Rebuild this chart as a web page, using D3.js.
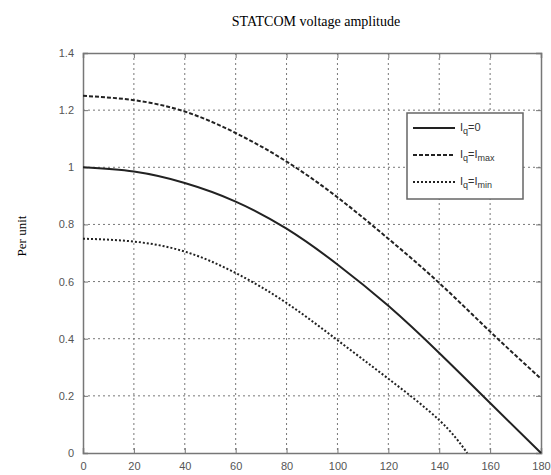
<!DOCTYPE html>
<html>
<head>
<meta charset="utf-8">
<script src="https://cdn.jsdelivr.net/npm/d3@7"></script>
<style>
  body { margin: 0; background: #fff; }
  svg { display: block; }
</style>
</head>
<body>
<div id="chart"></div>
<script>
// tick values
var xTicks = [0, 20, 40, 60, 80, 100, 120, 140, 160, 180];
var yTicks = [0, 0.2, 0.4, 0.6, 0.8, 1, 1.2, 1.4];

// curves
var angle = [0, 20, 40, 60, 80, 100, 120, 140, 160, 180];
var vZero = [1.0, 0.985, 0.945, 0.88, 0.785, 0.66, 0.515, 0.35, 0.175, 0];
var vMax = [1.25, 1.235, 1.195, 1.12, 1.02, 0.895, 0.75, 0.595, 0.425, 0.26];
var angleMin = [0, 20, 40, 60, 80, 100, 120, 140, 151];
var vMin = [0.75, 0.74, 0.705, 0.63, 0.525, 0.395, 0.26, 0.115, 0];

var W = 551, H = 475;
var margin = { top: 53, right: 10, bottom: 22, left: 83 },
    width = 541 - margin.left,
    height = 453 - margin.top;

var svg = d3.select("#chart")
    .append("svg")
    .attr("width", W)
    .attr("height", H);

var g = svg.append("g")
    .attr("transform", "translate(" + margin.left + "," + margin.top + ")");

var x = d3.scaleLinear().domain([0, 180]).range([0, width]);
var y = d3.scaleLinear().domain([0, 1.4]).range([height, 0]);

// grid
g.selectAll(".vgrid").data(xTicks.slice(1, -1)).enter()
    .append("line")
    .attr("x1", d => x(d)).attr("x2", d => x(d))
    .attr("y1", 0).attr("y2", height)
    .attr("stroke", "#777").attr("stroke-width", 1)
    .attr("stroke-dasharray", "2,3");
g.selectAll(".hgrid").data(yTicks.slice(1, -1)).enter()
    .append("line")
    .attr("x1", 0).attr("x2", width)
    .attr("y1", d => y(d)).attr("y2", d => y(d))
    .attr("stroke", "#777").attr("stroke-width", 1)
    .attr("stroke-dasharray", "2,3");

// axes
g.append("g")
    .attr("transform", "translate(0," + height + ")")
    .call(d3.axisBottom(x).tickValues(xTicks).tickSize(-5).tickPadding(9));
g.append("g")
    .call(d3.axisLeft(y).tickValues(yTicks).tickSize(-5).tickPadding(9)
        .tickFormat(d3.format("~g")));
g.append("g")
    .call(d3.axisTop(x).tickValues(xTicks).tickSize(-5).tickFormat(""));
g.append("g")
    .attr("transform", "translate(" + width + ",0)")
    .call(d3.axisRight(y).tickValues(yTicks).tickSize(-5).tickFormat(""));

g.selectAll(".domain").attr("stroke", "#777").attr("stroke-width", 1.5);
g.selectAll(".tick line").attr("stroke", "#777");
g.selectAll(".tick text")
    .attr("fill", "#555")
    .style("font-family", "Liberation Sans, Arial, sans-serif")
    .style("font-size", "11px");

// curves
var line = d3.line()
    .x(d => x(d[0]))
    .y(d => y(d[1]))
    .curve(d3.curveNatural);

var series = [
    { xs: angle, ys: vZero, dash: null },
    { xs: angle, ys: vMax, dash: "4,2" },
    { xs: angleMin, ys: vMin, dash: "2,2" }
];

series.forEach(function (s) {
    g.append("path")
        .datum(d3.zip(s.xs, s.ys))
        .attr("d", line)
        .attr("fill", "none")
        .attr("stroke", "#222")
        .attr("stroke-width", 2)
        .attr("stroke-dasharray", s.dash);
});

// legend
var legend = svg.append("g").attr("transform", "translate(407,113)");
legend.append("rect")
    .attr("width", 116).attr("height", 86)
    .attr("fill", "#fff")
    .attr("stroke", "#666").attr("stroke-width", 1.5);

var labels = [
    [["I", ""], ["q", "sub"], ["=0", ""]],
    [["I", ""], ["q", "sub"], ["=I", ""], ["max", "sub"]],
    [["I", ""], ["q", "sub"], ["=I", ""], ["min", "sub"]]
];

series.forEach(function (s, i) {
    var row = legend.append("g").attr("transform", "translate(0," + (15 + i * 27) + ")");
    row.append("line")
        .attr("x1", 6).attr("x2", 48)
        .attr("y1", 0).attr("y2", 0)
        .attr("stroke", "#222").attr("stroke-width", 2)
        .attr("stroke-dasharray", s.dash);
    var t = row.append("text")
        .attr("x", 53).attr("y", 3)
        .attr("fill", "#333")
        .style("font-family", "Liberation Sans, Arial, sans-serif")
        .style("font-size", "11px");
    labels[i].forEach(function (p) {
        var sp = t.append("tspan").text(p[0]);
        if (p[1] === "sub") sp.attr("baseline-shift", "-35%").style("font-size", "9px");
    });
});

// title
svg.append("text")
    .attr("x", 316)
    .attr("y", 26)
    .attr("text-anchor", "middle")
    .style("font-family", "Liberation Serif, Times New Roman, serif")
    .style("font-size", "14px")
    .text("STATCOM voltage amplitude");

// y label
svg.append("text")
    .attr("transform", "translate(21,236) rotate(-90)")
    .attr("text-anchor", "middle")
    .attr("dy", "0.35em")
    .style("font-family", "Liberation Serif, Times New Roman, serif")
    .style("font-size", "13px")
    .text("Per unit");
</script>
</body>
</html>
